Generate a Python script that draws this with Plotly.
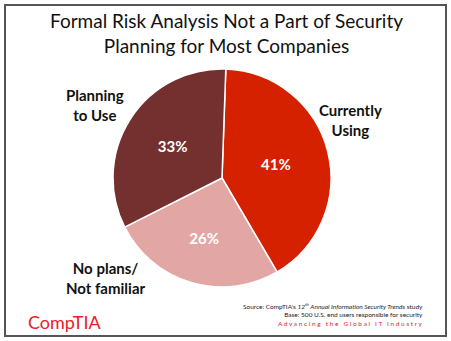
import plotly.graph_objects as go

# Survey shares
categories = ["Currently Using", "No plans/ Not familiar", "Planning to Use"]
label_lines = ["Currently<br>Using", "No plans/<br>Not familiar", "Planning<br>to Use"]
values = [41, 26, 33]
colors = ["#D62100", "#E2A7A4", "#73302F"]

W, H = 451, 341

def px(x):
    return x / W

def py(y):
    return 1 - y / H

cx, cy, r = 222, 178, 109

fig = go.Figure(go.Pie(
    labels=categories,
    values=values,
    sort=False,
    direction="clockwise",
    rotation=2,
    marker=dict(colors=colors, line=dict(color="white", width=1.5)),
    texttemplate="%{value}%",
    textposition="inside",
    insidetextorientation="horizontal",
    textfont=dict(family="Lato", size=15, color="white", weight="bold"),
    hoverinfo="label+percent",
    showlegend=False,
    domain=dict(x=[px(cx - r), px(cx + r)], y=[py(cy + r), py(cy - r)]),
))

annotations = [
    dict(text="Formal Risk Analysis Not a Part of Security<br>Planning for Most Companies",
         x=px(226), y=py(33), font=dict(family="Lato", size=19, color="#111111")),
    dict(text="<b>" + label_lines[0] + "</b>", x=px(350), y=py(120),
         font=dict(family="Lato", size=15, color="#111111")),
    dict(text="<b>" + label_lines[1] + "</b>", x=px(106), y=py(278),
         font=dict(family="Lato", size=15, color="#111111")),
    dict(text="<b>" + label_lines[2] + "</b>", x=px(95), y=py(105),
         font=dict(family="Lato", size=15, color="#111111")),
    dict(text="Source: CompTIA's <i>12<sup>th</sup> Annual Information Security Trends</i> study<br>"
              "Base: 500 U.S. end users responsible for security",
         x=px(425), y=py(310), xanchor="right", align="right",
         font=dict(family="Lato", size=6.5, color="#222222")),
    dict(text="A d v a n c i n g   t h e   G l o b a l   I T   I n d u s t r y",
         x=px(425), y=py(323), xanchor="right",
         font=dict(family="Lato", size=6.5, color="#E8202A")),
    dict(text="CompTIA", x=px(64), y=py(322),
         font=dict(family="Lato", size=18, color="#E8202A")),
]
for a in annotations:
    a.update(xref="paper", yref="paper", showarrow=False)
    a.setdefault("xanchor", "center")
    a.setdefault("yanchor", "middle")

fig.update_layout(
    width=W, height=H,
    margin=dict(l=0, r=0, t=0, b=0),
    paper_bgcolor="white",
    plot_bgcolor="white",
    annotations=annotations,
    shapes=[dict(type="rect", xref="paper", yref="paper",
                 x0=px(5), x1=px(446), y0=py(336), y1=py(5),
                 line=dict(color="#555555", width=2))],
)

fig.write_html("out.html")
